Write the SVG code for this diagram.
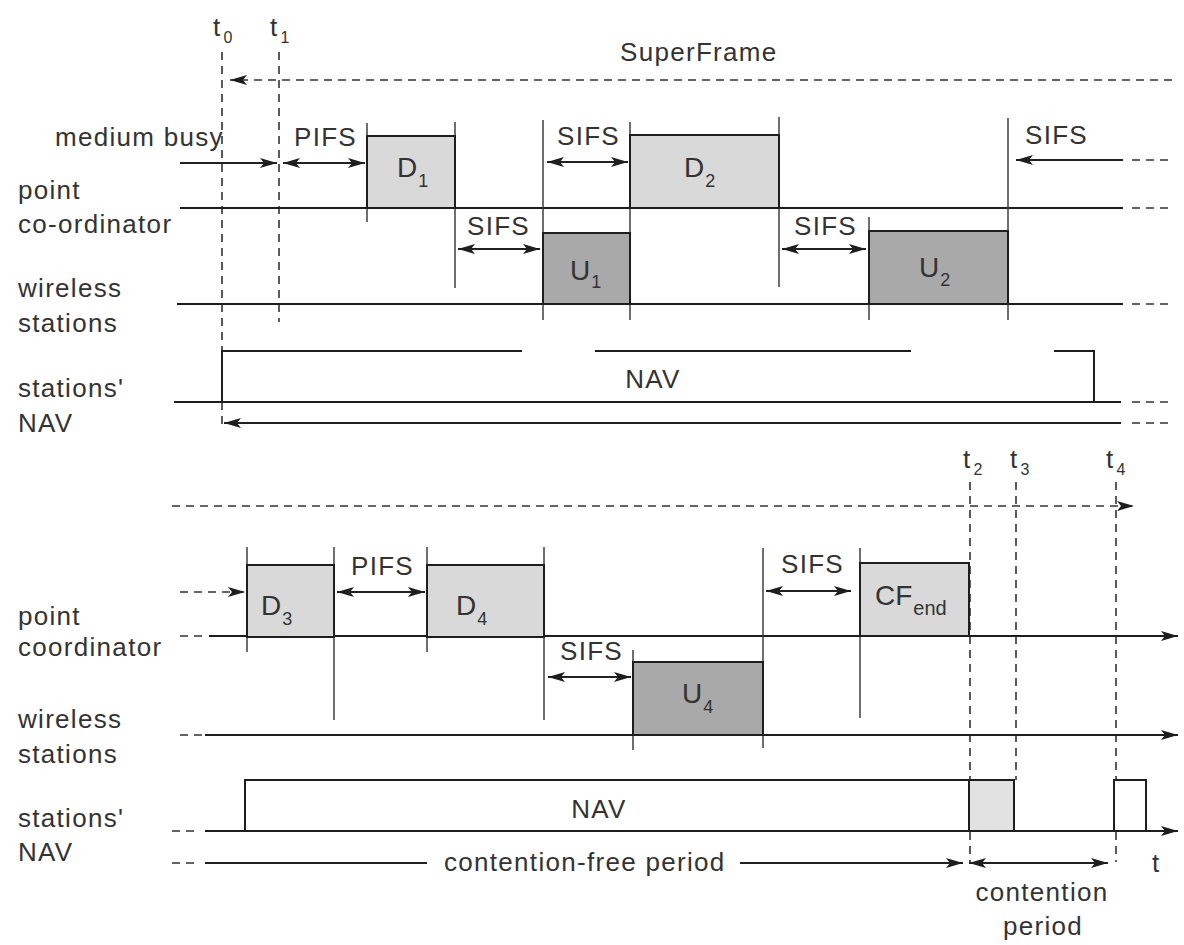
<svg xmlns="http://www.w3.org/2000/svg" width="1184" height="945" viewBox="0 0 1184 945">
<style>
text{font-family:"Liberation Sans",Arial,sans-serif;fill:#333;font-size:26px;letter-spacing:1.3px}
.bx{font-size:28px;letter-spacing:0}
.ln{stroke:#1e1e1e;stroke-width:2;fill:none}
.tk{stroke:#333;stroke-width:1.4;fill:none}
.ds{stroke:#333;stroke-width:1.6;fill:none;stroke-dasharray:8 6}
.ar{stroke:#222;stroke-width:1.8;fill:none}
.lt{fill:#d9d9d9;stroke:#1e1e1e;stroke-width:2}
.dk{fill:#a9a9a9;stroke:#1e1e1e;stroke-width:2}
.wh{fill:#fff;stroke:#1e1e1e;stroke-width:2}
</style>
<defs>
<marker id="ah" viewBox="0 0 17 10" refX="17" refY="5" markerWidth="17" markerHeight="10" markerUnits="userSpaceOnUse" orient="auto-start-reverse"><path d="M0,0 L17,5 L0,10 L4,5 z" fill="#1e1e1e"/></marker>
</defs>
<rect width="1184" height="945" fill="#fff"/>

<!-- top labels -->
<g id="labels-top">
<text x="213" y="36">t<tspan dx="2" dy="7" font-size="16">0</tspan></text>
<text x="270" y="36">t<tspan dx="2" dy="7" font-size="16">1</tspan></text>
<text x="620" y="61">SuperFrame</text>
<text x="55" y="146">medium busy</text>
<text x="18" y="199">point</text>
<text x="18" y="233">co-ordinator</text>
<text x="18" y="297">wireless</text>
<text x="18" y="332">stations</text>
<text x="18" y="397">stations'</text>
<text x="18" y="432">NAV</text>
<text x="294" y="146">PIFS</text>
<text x="557" y="145">SIFS</text>
<text x="467" y="235">SIFS</text>
<text x="794" y="235">SIFS</text>
<text x="1025" y="144">SIFS</text>
</g>

<g id="connectors">
<!-- top -->
<path class="ds" d="M222,52 V425"/>
<path class="ds" d="M279,52 V322"/>
<path class="ds" d="M1172,80 H230" marker-end="url(#ah)"/>
<path class="ar" d="M180,163 H277" marker-end="url(#ah)"/>
<path class="ar" d="M283,163 H365" marker-start="url(#ah)" marker-end="url(#ah)"/>
<path class="ar" d="M547,162 H628" marker-start="url(#ah)" marker-end="url(#ah)"/>
<path class="ar" d="M458,249 H540" marker-start="url(#ah)" marker-end="url(#ah)"/>
<path class="ar" d="M782,249 H866" marker-start="url(#ah)" marker-end="url(#ah)"/>
<path class="ar" d="M1123,160 H1016" marker-end="url(#ah)"/>
<path class="ds" d="M1132,160 H1168"/>
<path class="ln" d="M180,208 H1123"/>
<path class="ds" d="M1132,208 H1168"/>
<path class="ln" d="M177,304 H1123"/>
<path class="ds" d="M1132,304 H1168"/>
<path class="ln" d="M174,402 H1121"/>
<path class="ds" d="M1132,402 H1168"/>
<path class="ar" d="M1121,423 H224" marker-end="url(#ah)"/>
<path class="ds" d="M1132,423 H1168"/>
<path class="ln" d="M222,402 V351 H522 M595,351 H911 M1054,351 H1094 V402"/>
<!-- ticks top -->
<path class="tk" d="M367,123 V222 M455,122 V288 M543,120 V320 M630,122 V320 M779,117 V287 M869,217 V320 M1008,118 V320"/>
<!-- bottom -->
<path class="ds" d="M970,482 V862"/>
<path class="ds" d="M1016,482 V780"/>
<path class="ds" d="M1116,482 V862"/>
<path class="ds" d="M172,506 H1134" marker-end="url(#ah)"/>
<path class="ds" d="M180,592 H245" marker-end="url(#ah)"/>
<path class="ar" d="M337,592 H425" marker-start="url(#ah)" marker-end="url(#ah)"/>
<path class="ar" d="M766,591 H851" marker-start="url(#ah)" marker-end="url(#ah)"/>
<path class="ar" d="M548,677 H631" marker-start="url(#ah)" marker-end="url(#ah)"/>
<path class="ds" d="M180,636 H203 M180,735 H203 M172,831 H199 M172,863 H199"/>
<path class="ln" d="M209,636 H1178" marker-end="url(#ah)"/>
<path class="ln" d="M205,735 H1178" marker-end="url(#ah)"/>
<path class="ln" d="M205,831 H1178" marker-end="url(#ah)"/>
<path class="ln" d="M245,831 V780 H969"/>
<path class="ar" d="M205,863 H427"/>
<path class="ar" d="M740,863 H963" marker-end="url(#ah)"/>
<path class="ar" d="M969,863 H1108" marker-start="url(#ah)" marker-end="url(#ah)"/>
<path class="tk" d="M247,547 V652 M334,547 V720 M427,547 V652 M544,547 V720 M633,650 V750 M763,548 V748 M860,548 V718"/>
</g>

<g id="D1"><rect class="lt" x="367" y="136" width="88" height="72"/><text class="bx" x="397" y="177">D<tspan dx="1" dy="10" font-size="18">1</tspan></text></g>
<g id="D2"><rect class="lt" x="630" y="135" width="149" height="73"/><text class="bx" x="684" y="177">D<tspan dx="1" dy="10" font-size="18">2</tspan></text></g>
<g id="U1"><rect class="dk" x="543" y="233" width="87" height="71"/><text class="bx" x="570" y="280">U<tspan dx="1" dy="8" font-size="18">1</tspan></text></g>
<g id="U2"><rect class="dk" x="869" y="231" width="139" height="73"/><text class="bx" x="919" y="277">U<tspan dx="1" dy="9" font-size="18">2</tspan></text></g>
<g id="NAV1"><text x="653" y="388" text-anchor="middle">NAV</text></g>

<g id="labels-bottom">
<text x="963" y="468">t<tspan dx="2" dy="7" font-size="16">2</tspan></text>
<text x="1010" y="468">t<tspan dx="2" dy="7" font-size="16">3</tspan></text>
<text x="1106" y="468">t<tspan dx="2" dy="7" font-size="16">4</tspan></text>
<text x="18" y="625">point</text>
<text x="18" y="656">coordinator</text>
<text x="18" y="728">wireless</text>
<text x="18" y="763">stations</text>
<text x="18" y="827">stations'</text>
<text x="18" y="861">NAV</text>
<text x="351" y="575">PIFS</text>
<text x="781" y="573">SIFS</text>
<text x="560" y="660">SIFS</text>
<text x="444" y="871">contention-free period</text>
<text x="1152" y="872">t</text>
<text x="1042" y="901" text-anchor="middle">contention</text>
<text x="1043" y="935" text-anchor="middle">period</text>
</g>

<g id="D3"><rect class="lt" x="247" y="565" width="87" height="72"/><text class="bx" x="261" y="615">D<tspan dx="1" dy="10" font-size="18">3</tspan></text></g>
<g id="D4"><rect class="lt" x="427" y="565" width="117" height="72"/><text class="bx" x="456" y="615">D<tspan dx="1" dy="10" font-size="18">4</tspan></text></g>
<g id="U4"><rect class="dk" x="633" y="662" width="130" height="73"/><text class="bx" x="682" y="703">U<tspan dx="1" dy="10" font-size="18">4</tspan></text></g>
<g id="CFend"><rect class="lt" x="860" y="563" width="109" height="73"/><text class="bx" x="875" y="605">CF<tspan dx="1" dy="10" font-size="20">end</tspan></text></g>
<g id="NAV2"><text x="599" y="818" text-anchor="middle">NAV</text></g>
<g id="CP-NAV"><rect x="969" y="780" width="45" height="51" fill="#e2e2e2" stroke="#1e1e1e" stroke-width="2"/></g>
<g id="NAV3"><rect class="wh" x="1114" y="780" width="32" height="51"/></g>
</svg>
